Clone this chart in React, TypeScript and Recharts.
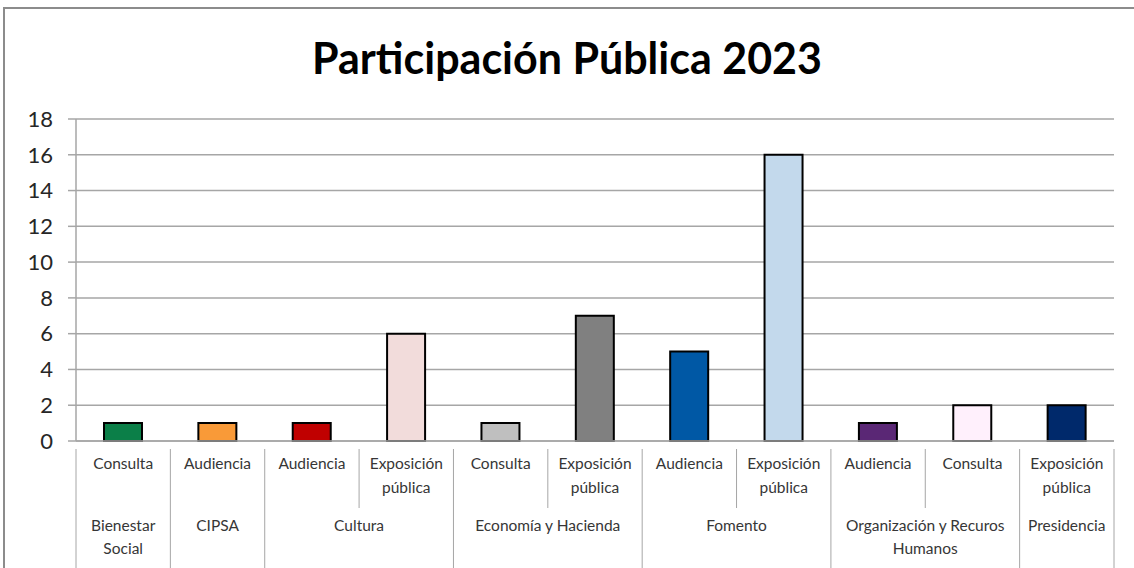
import { BarChart, Bar, XAxis, YAxis, CartesianGrid, Cell } from "recharts";

const GROUPS = [
  "Bienestar Social",
  "CIPSA",
  "Cultura",
  "Cultura",
  "Economía y Hacienda",
  "Economía y Hacienda",
  "Fomento",
  "Fomento",
  "Organización y Recuros Humanos",
  "Organización y Recuros Humanos",
  "Presidencia",
];
const TYPES = [
  "Consulta",
  "Audiencia",
  "Audiencia",
  "Exposición pública",
  "Consulta",
  "Exposición pública",
  "Audiencia",
  "Exposición pública",
  "Audiencia",
  "Consulta",
  "Exposición pública",
];
const VALUES = [1, 1, 1, 6, 1, 7, 5, 16, 1, 2, 2];
const COLORS = [
  "#0B7F48", "#F99A38", "#C00000", "#F2DCDB", "#BFBFBF", "#808080",
  "#0058A5", "#C3D9EC", "#5A2775", "#FFF0FC", "#00296B",
];
const Y_TICKS = [0, 2, 4, 6, 8, 10, 12, 14, 16, 18];

const data = TYPES.map((t, i) => ({ type: t, group: GROUPS[i], value: VALUES[i] }));

const FONT = "Lato, 'Open Sans', sans-serif";
const TEXT = "#363636";
const LINE = "#A6A6A6";

function wrap(text: string, maxW: number, charW = 7.4) {
  const words = text.split(" ");
  const lines: string[] = [];
  let cur = "";
  for (const w of words) {
    const next = cur ? cur + " " + w : w;
    if (cur && next.length * charW > maxW) {
      lines.push(cur);
      cur = w;
    } else cur = next;
  }
  if (cur) lines.push(cur);
  return lines;
}

function MultiTick(props: any) {
  const { x, y, payload, index, width, visibleTicksCount } = props;
  const n = visibleTicksCount || data.length;
  const band = width / n;
  const left = x - band / 2;
  const top = y;
  const isGroupStart = index === 0 || GROUPS[index] !== GROUPS[index - 1];
  let groupLen = 0;
  if (isGroupStart) {
    while (index + groupLen < GROUPS.length && GROUPS[index + groupLen] === GROUPS[index]) groupLen++;
  }
  const subLines = wrap(payload.value, band - 6);
  const groupLines = isGroupStart ? wrap(GROUPS[index], band * groupLen - 6) : [];
  return (
    <g>
      <line x1={left} x2={left} y1={top} y2={top + (isGroupStart ? 119 : 59)} stroke={LINE} strokeWidth={1} />
      {index === n - 1 && (
        <line x1={left + band} x2={left + band} y1={top} y2={top + 119} stroke={LINE} strokeWidth={1} />
      )}
      {subLines.map((l, i) => (
        <text key={i} x={x} y={top + 20 + i * 24} textAnchor="middle" fontSize={15.5} fill={TEXT} fontFamily={FONT}>
          {l}
        </text>
      ))}
      {groupLines.map((l, i) => (
        <text
          key={"g" + i}
          x={left + (band * groupLen) / 2}
          y={top + 82 + i * 23}
          textAnchor="middle"
          fontSize={15.5}
          fill={TEXT}
          fontFamily={FONT}
        >
          {l}
        </text>
      ))}
    </g>
  );
}

export default function App() {
  return (
    <div style={{ position: "absolute", left: 0, top: 0, width: 1134, height: 568, background: "#fff" }}>
      <div
        style={{
          position: "absolute",
          left: 3,
          top: 7,
          width: 1140,
          height: 570,
          borderTop: "2px solid #8C8C8C",
          borderLeft: "2px solid #8C8C8C",
        }}
      />
      <div
        style={{
          position: "absolute",
          left: 0,
          top: 32,
          width: 1134,
          textAlign: "center",
          fontFamily: FONT,
          fontWeight: 700,
          fontSize: 43,
          color: "#000",
        }}
      >
        Participación Pública 2023
      </div>
      <BarChart
        width={1134}
        height={568}
        data={data}
        margin={{ top: 119, right: 20, left: 16, bottom: 7 }}
        style={{ position: "absolute", left: 0, top: 0 }}
      >
        <CartesianGrid vertical={false} stroke={LINE} strokeWidth={1.5} />
        <YAxis
          width={60}
          domain={[0, 18]}
          ticks={Y_TICKS}
          interval={0}
          axisLine={{ stroke: LINE, strokeWidth: 1.5 }}
          tickLine={{ stroke: LINE, strokeWidth: 1.5 }}
          tickSize={8}
          tickMargin={15}
          tick={{ fontSize: 22, fill: "#262626", fontFamily: FONT }}
        />
        <XAxis
          dataKey="type"
          height={120}
          interval={0}
          axisLine={{ stroke: LINE, strokeWidth: 1.5 }}
          tickLine={false}
          tick={<MultiTick />}
        />
        <Bar dataKey="value" stroke="#000" strokeWidth={2} barSize={38} isAnimationActive={false}>
          {data.map((_, i) => (
            <Cell key={i} fill={COLORS[i]} />
          ))}
        </Bar>
      </BarChart>
    </div>
  );
}
